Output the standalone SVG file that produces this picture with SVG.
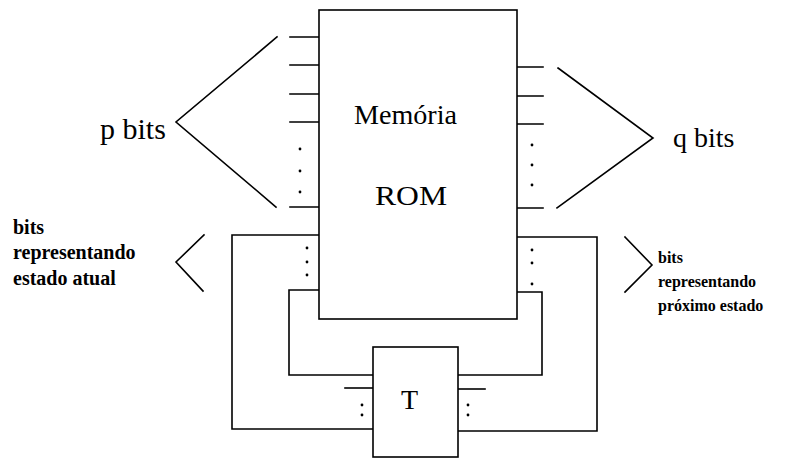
<svg xmlns="http://www.w3.org/2000/svg" width="806" height="458" viewBox="0 0 806 458">
<style>
.ln{stroke:#000;stroke-width:1.6;fill:none;stroke-linecap:square}
.box{stroke:#000;stroke-width:1.6;fill:#fff}
.dot{fill:#000}
.big{font-family:"Liberation Serif","Times New Roman",serif;font-size:28px;fill:#000}
.sm{font-family:"Liberation Serif","Times New Roman",serif;font-size:16px;font-weight:bold;fill:#000}
.sml{font-family:"Liberation Serif","Times New Roman",serif;font-size:20px;font-weight:bold;fill:#000}
</style>
<rect width="806" height="458" fill="#fff"/>
<g id="connectors">
  <path class="ln" d="M290 37H319M290 65H319M290 94H319M290 122H319M290 207H319"/>
  <circle class="dot" cx="300" cy="149" r="1.4"/>
  <circle class="dot" cx="300" cy="171" r="1.4"/>
  <circle class="dot" cx="300" cy="192" r="1.4"/>
  <path class="ln" d="M517 67H543M517 96H543M517 124H543M517 208H543"/>
  <circle class="dot" cx="532" cy="145" r="1.4"/>
  <circle class="dot" cx="532" cy="165" r="1.4"/>
  <circle class="dot" cx="532" cy="185" r="1.4"/>
  <polyline class="ln" points="277,37 176,122 276,207"/>
  <polyline class="ln" points="558,68 653,138 557,208"/>
  <polyline class="ln" points="204,235 176,262 203,291"/>
  <polyline class="ln" points="625,237 652,265 625,292"/>
  <polyline class="ln" points="319,235 232,235 232,429 373,429"/>
  <polyline class="ln" points="319,290 289,290 289,375 373,375"/>
  <circle class="dot" cx="307" cy="248" r="1.4"/>
  <circle class="dot" cx="307" cy="262" r="1.4"/>
  <circle class="dot" cx="307" cy="275" r="1.4"/>
  <path class="ln" d="M345 388H373"/>
  <circle class="dot" cx="362" cy="405" r="1.4"/>
  <circle class="dot" cx="362" cy="415" r="1.4"/>
  <polyline class="ln" points="517,237 597,237 597,431 458,431"/>
  <polyline class="ln" points="517,292 542,292 542,375 458,375"/>
  <circle class="dot" cx="532" cy="250" r="1.4"/>
  <circle class="dot" cx="532" cy="263" r="1.4"/>
  <circle class="dot" cx="532" cy="284" r="1.4"/>
  <path class="ln" d="M458 389H485"/>
  <circle class="dot" cx="468" cy="405" r="1.4"/>
  <circle class="dot" cx="468" cy="415" r="1.4"/>
</g>
<g id="rom">
  <rect class="box" x="319" y="10" width="198" height="309"/>
  <text class="big" x="354" y="124" textLength="103" lengthAdjust="spacingAndGlyphs">Memória</text>
  <text class="big" x="375" y="205" textLength="72" lengthAdjust="spacingAndGlyphs">ROM</text>
</g>
<g id="t">
  <rect class="box" x="373" y="347" width="85" height="110"/>
  <text class="big" x="401" y="409">T</text>
</g>
<g id="labels">
  <text class="big" x="100" y="139" style="font-size:30px">p bits</text>
  <text class="big" x="673" y="147">q bits</text>
  <text class="sml" x="13" y="234">bits</text>
  <text class="sml" x="13" y="259">representando</text>
  <text class="sml" x="13" y="285">estado atual</text>
  <text class="sm" x="658" y="263">bits</text>
  <text class="sm" x="658" y="287">representando</text>
  <text class="sm" x="658" y="311">próximo estado</text>
</g>
</svg>
